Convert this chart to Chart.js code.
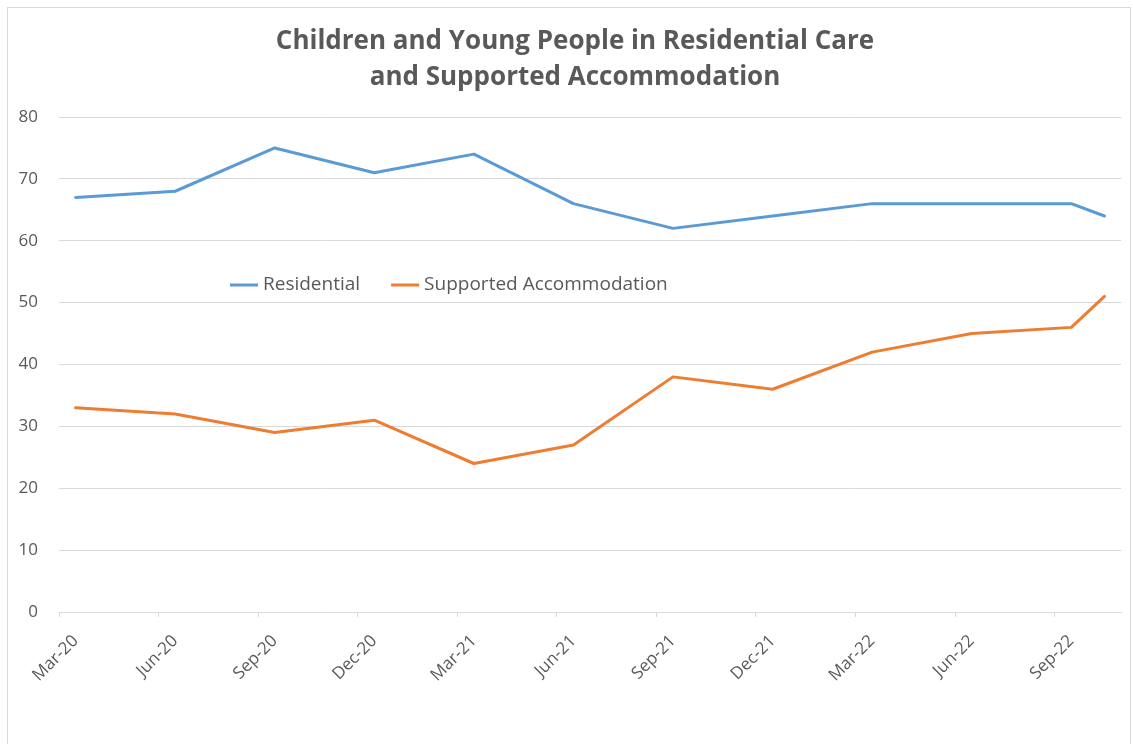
<!DOCTYPE html>
<html>
<head>
<meta charset="utf-8">
<title>Children and Young People in Residential Care and Supported Accommodation</title>
<script src="https://cdn.jsdelivr.net/npm/chart.js@4.4.1/dist/chart.umd.min.js"></script>
<style>
  html, body { margin: 0; padding: 0; background: #fff; }
  #wrap { position: relative; width: 1133px; height: 744px; overflow: hidden; }
  #frame {
    position: absolute; left: 7px; top: 7px; width: 1122px; height: 760px;
    border: 1px solid #d9d9d9; pointer-events: none;
  }
  canvas { position: absolute; left: 0; top: 0; }
</style>
</head>
<body>
<div id="wrap">
  <canvas id="careChart" width="1133" height="744"></canvas>
  <div id="frame"></div>
</div>
<script>
// monthly categories, quarterly readings (gaps are spanned)
const months = [
  'Mar-20', 'Apr-20', 'May-20', 'Jun-20', 'Jul-20', 'Aug-20', 'Sep-20', 'Oct-20', 'Nov-20', 'Dec-20',
  'Jan-21', 'Feb-21', 'Mar-21', 'Apr-21', 'May-21', 'Jun-21', 'Jul-21', 'Aug-21', 'Sep-21', 'Oct-21', 'Nov-21', 'Dec-21',
  'Jan-22', 'Feb-22', 'Mar-22', 'Apr-22', 'May-22', 'Jun-22', 'Jul-22', 'Aug-22', 'Sep-22', 'Oct-22'
];
const residential = [
  67, null, null, 68, null, null, 75, null, null, 71, null, null,
  74, null, null, 66, null, null, 62, null, null, 64, null, null,
  66, null, null, 66, null, null, 66, 64
];
const supported = [
  33, null, null, 32, null, null, 29, null, null, 31, null, null,
  24, null, null, 27, null, null, 38, null, null, 36, null, null,
  42, null, null, 45, null, null, 46, 51
];
const yTicks = [0, 10, 20, 30, 40, 50, 60, 70, 80];

const titleLines = ['Children and Young People in Residential Care', 'and Supported Accommodation'];
const textGrey = '#595959';
const gridGrey = '#d9d9d9';
const fontFamily = '"Open Sans", "DejaVu Sans", sans-serif';

// nudge the title block so it centres over the whole frame incl. axis labels
const titleShift = {
  id: 'titleShift',
  afterLayout(chart) {
    if (chart.titleBlock) chart.titleBlock.left += 23;
  }
};

// legend drawn inside the plot, between the two lines
const insideLegend = {
  id: 'insideLegend',
  afterDatasetsDraw(chart) {
    const ctx = chart.ctx;
    let x = 230;
    const y = 285;
    ctx.save();
    ctx.font = '19px ' + fontFamily;
    ctx.textBaseline = 'middle';
    ctx.textAlign = 'left';
    chart.data.datasets.forEach(ds => {
      ctx.strokeStyle = ds.borderColor;
      ctx.lineWidth = 3;
      ctx.beginPath();
      ctx.moveTo(x, y);
      ctx.lineTo(x + 28, y);
      ctx.stroke();
      x += 33;
      ctx.fillStyle = textGrey;
      ctx.fillText(ds.label, x, y);
      x += ctx.measureText(ds.label).width + 31;
    });
    ctx.restore();
  }
};

new Chart(document.getElementById('careChart'), {
  type: 'line',
  data: {
    labels: months,
    datasets: [
      {
        label: 'Residential',
        data: residential,
        borderColor: '#5b9bd5',
        backgroundColor: '#5b9bd5'
      },
      {
        label: 'Supported Accommodation',
        data: supported,
        borderColor: '#ed7d31',
        backgroundColor: '#ed7d31'
      }
    ]
  },
  options: {
    responsive: false,
    animation: false,
    spanGaps: true,
    elements: {
      line: { borderWidth: 3, tension: 0, borderJoinStyle: 'round', borderCapStyle: 'round' },
      point: { radius: 0, hoverRadius: 0 }
    },
    layout: { padding: { left: 0, right: 6, top: 0, bottom: 0 } },
    plugins: {
      legend: { display: false },
      tooltip: { enabled: false },
      title: {
        display: true,
        text: titleLines,
        color: textGrey,
        font: { family: fontFamily, size: 26, weight: 'bold', lineHeight: 36 / 26 },
        padding: { top: 24, bottom: 21 }
      }
    },
    scales: {
      x: {
        offset: true,
        afterFit: scale => { scale.height = 132; },
        border: { color: gridGrey },
        grid: {
          offset: true,
          drawOnChartArea: false,
          drawTicks: true,
          tickLength: 5,
          tickColor: c => (c.index !== undefined && c.index % 3 === 0) ? gridGrey : 'rgba(0,0,0,0)'
        },
        ticks: {
          autoSkip: false,
          minRotation: 45,
          maxRotation: 45,
          padding: 14,
          color: textGrey,
          font: { family: fontFamily, size: 17 },
          callback: (v, i) => (i % 3 === 0 ? months[i] : '')
        }
      },
      y: {
        min: 0,
        max: 80,
        afterFit: scale => { scale.width = 59; },
        afterBuildTicks: scale => { scale.ticks = yTicks.map(v => ({ value: v })); },
        border: { display: false },
        grid: { color: gridGrey, lineWidth: 1, drawTicks: false },
        ticks: {
          padding: 21,
          color: textGrey,
          font: { family: fontFamily, size: 17 }
        }
      }
    }
  },
  plugins: [titleShift, insideLegend]
});
</script>
</body>
</html>
